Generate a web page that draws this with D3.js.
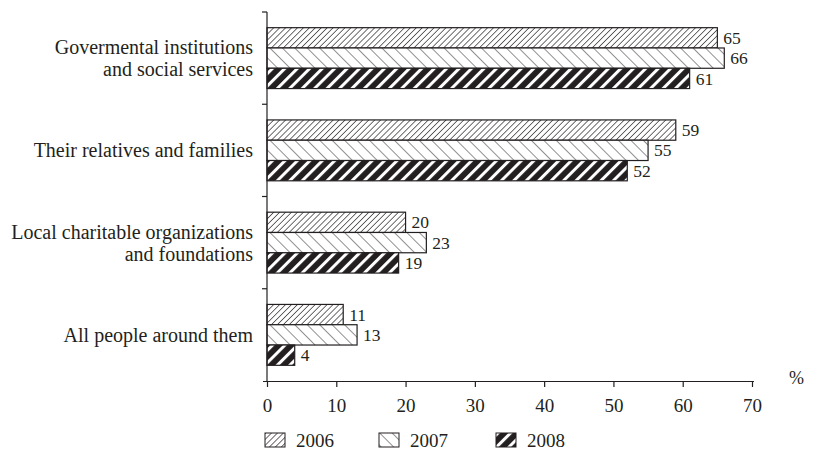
<!DOCTYPE html>
<html>
<head>
<meta charset="utf-8">
<script src="https://cdn.jsdelivr.net/npm/d3@7"></script>
<style>
  body { margin: 0; background: #fff; }
  svg { display: block; }
  svg text { font-family: "Liberation Serif", "Times New Roman", "DejaVu Serif", serif; }
</style>
</head>
<body>
<div id="chart"></div>
<script>
// Who helps: share of answers by year
const categories = [
    ['Govermental institutions', 'and social services'],
    ['Their relatives and families'],
    ['Local charitable organizations', 'and foundations'],
    ['All people around them']
];
const years = ['2006', '2007', '2008'];
const values2006 = [65, 59, 20, 11];
const values2007 = [66, 55, 23, 13];
const values2008 = [61, 52, 19, 4];
const xTicks = [0, 10, 20, 30, 40, 50, 60, 70];

const seriesValues = [values2006, values2007, values2008];

const width = 837, height = 453;
const margin = { left: 267, right: 85, top: 12, bottom: 72 };
const ink = '#231f20';
const serif = '"Liberation Serif", "Times New Roman", serif';

const svg = d3.select('#chart').append('svg')
    .attr('width', width)
    .attr('height', height);

// Hatch patterns
const defs = svg.append('defs');

const p1 = defs.append('pattern')
    .attr('id', 'hatch2006')
    .attr('patternUnits', 'userSpaceOnUse')
    .attr('width', 4.2).attr('height', 4.2)
    .attr('patternTransform', 'rotate(45)');
p1.append('rect').attr('width', 4.2).attr('height', 4.2).attr('fill', '#fff');
p1.append('line').attr('x1', 0).attr('y1', 0).attr('x2', 0).attr('y2', 4.2)
    .attr('stroke', ink).attr('stroke-width', 1.3);

const p2 = defs.append('pattern')
    .attr('id', 'hatch2007')
    .attr('patternUnits', 'userSpaceOnUse')
    .attr('width', 8.8).attr('height', 8.8)
    .attr('patternTransform', 'rotate(-45)');
p2.append('rect').attr('width', 8.8).attr('height', 8.8).attr('fill', '#fff');
p2.append('line').attr('x1', 0).attr('y1', 0).attr('x2', 0).attr('y2', 8.8)
    .attr('stroke', ink).attr('stroke-width', 1);

const p3 = defs.append('pattern')
    .attr('id', 'hatch2008')
    .attr('patternUnits', 'userSpaceOnUse')
    .attr('width', 8.8).attr('height', 8.8)
    .attr('patternTransform', 'rotate(45)');
p3.append('rect').attr('width', 8.8).attr('height', 8.8).attr('fill', ink);
p3.append('rect').attr('x', 0).attr('y', 0).attr('width', 3).attr('height', 8.8)
    .attr('fill', '#fff');

const fills = ['url(#hatch2006)', 'url(#hatch2007)', 'url(#hatch2008)'];

const x = d3.scaleLinear()
    .domain([0, 70])
    .range([margin.left, width - margin.right]);

const y = d3.scaleBand()
    .domain(d3.range(categories.length))
    .range([margin.top, height - margin.bottom])
    .paddingInner(0.34)
    .paddingOuter(0.17);

const yInner = d3.scaleBand()
    .domain(d3.range(years.length))
    .range([0, y.bandwidth()]);

// Bars
const groups = svg.append('g')
    .selectAll('g')
    .data(categories)
    .join('g')
    .attr('transform', (d, i) => `translate(0,${y(i)})`);

groups.each(function (cat, ci) {
    const g = d3.select(this);
    years.forEach((yr, si) => {
        const v = seriesValues[si][ci];
        g.append('rect')
            .attr('x', x(0))
            .attr('y', yInner(si))
            .attr('width', x(v) - x(0))
            .attr('height', yInner.bandwidth())
            .attr('fill', fills[si])
            .attr('stroke', ink)
            .attr('stroke-width', 1.2);
        g.append('text')
            .attr('x', x(v) + 6)
            .attr('y', yInner(si) + yInner.bandwidth() / 2)
            .attr('dy', '0.35em')
            .attr('font-size', '17.5px')
            .attr('fill', ink)
            .text(v);
    });
});

// X axis
const axisY = height - margin.bottom;
const xAxis = svg.append('g')
    .attr('transform', `translate(0,${axisY})`)
    .call(d3.axisBottom(x).tickValues(xTicks).tickSize(6).tickPadding(12).tickSizeOuter(0));
xAxis.select('.domain').attr('stroke', ink).attr('stroke-width', 1.2)
    .attr('d', `M${x(0) - 4},0.5H${x(70) + 2}`);
xAxis.selectAll('.tick line').attr('stroke', ink).attr('stroke-width', 1.2);
xAxis.selectAll('.tick text')
    .attr('font-family', serif)
    .attr('font-size', '19px')
    .attr('fill', ink);

svg.append('text')
    .attr('x', x(70) + 37)
    .attr('y', axisY + 3)
    .attr('font-size', '18px')
    .attr('fill', ink)
    .text('%');

// Y axis line with ticks between categories
const yAxisG = svg.append('g');
yAxisG.append('line')
    .attr('x1', x(0)).attr('x2', x(0))
    .attr('y1', margin.top).attr('y2', axisY)
    .attr('stroke', ink).attr('stroke-width', 1.2);
const step = y.step();
const boundaries = d3.range(categories.length).map(i => y(i) - y.paddingInner() * step / 2);
yAxisG.selectAll('.ytick')
    .data(boundaries)
    .join('line')
    .attr('x1', x(0) - 5).attr('x2', x(0))
    .attr('y1', d => d).attr('y2', d => d)
    .attr('stroke', ink).attr('stroke-width', 1.2);

// Category labels
groups.append('text')
    .attr('text-anchor', 'end')
    .attr('font-size', '20px')
    .attr('fill', ink)
    .each(function (lines) {
        const t = d3.select(this);
        const lh = 22;
        const start = y.bandwidth() / 2 - (lines.length - 1) * lh / 2;
        lines.forEach((ln, k) => {
            t.append('tspan')
                .attr('x', x(0) - 14)
                .attr('y', start + k * lh)
                .attr('dy', '0.35em')
                .text(ln);
        });
    });

// Legend
const legendX = [265, 379, 496];
const legend = svg.append('g')
    .selectAll('g')
    .data(years)
    .join('g')
    .attr('transform', (d, i) => `translate(${legendX[i]},${433})`);
legend.append('rect')
    .attr('width', 20).attr('height', 14)
    .attr('fill', (d, i) => fills[i])
    .attr('stroke', ink).attr('stroke-width', 1);
legend.append('text')
    .attr('x', 31).attr('y', 7)
    .attr('dy', '0.35em')
    .attr('font-size', '19px')
    .attr('fill', ink)
    .text(d => d);
</script>
</body>
</html>
